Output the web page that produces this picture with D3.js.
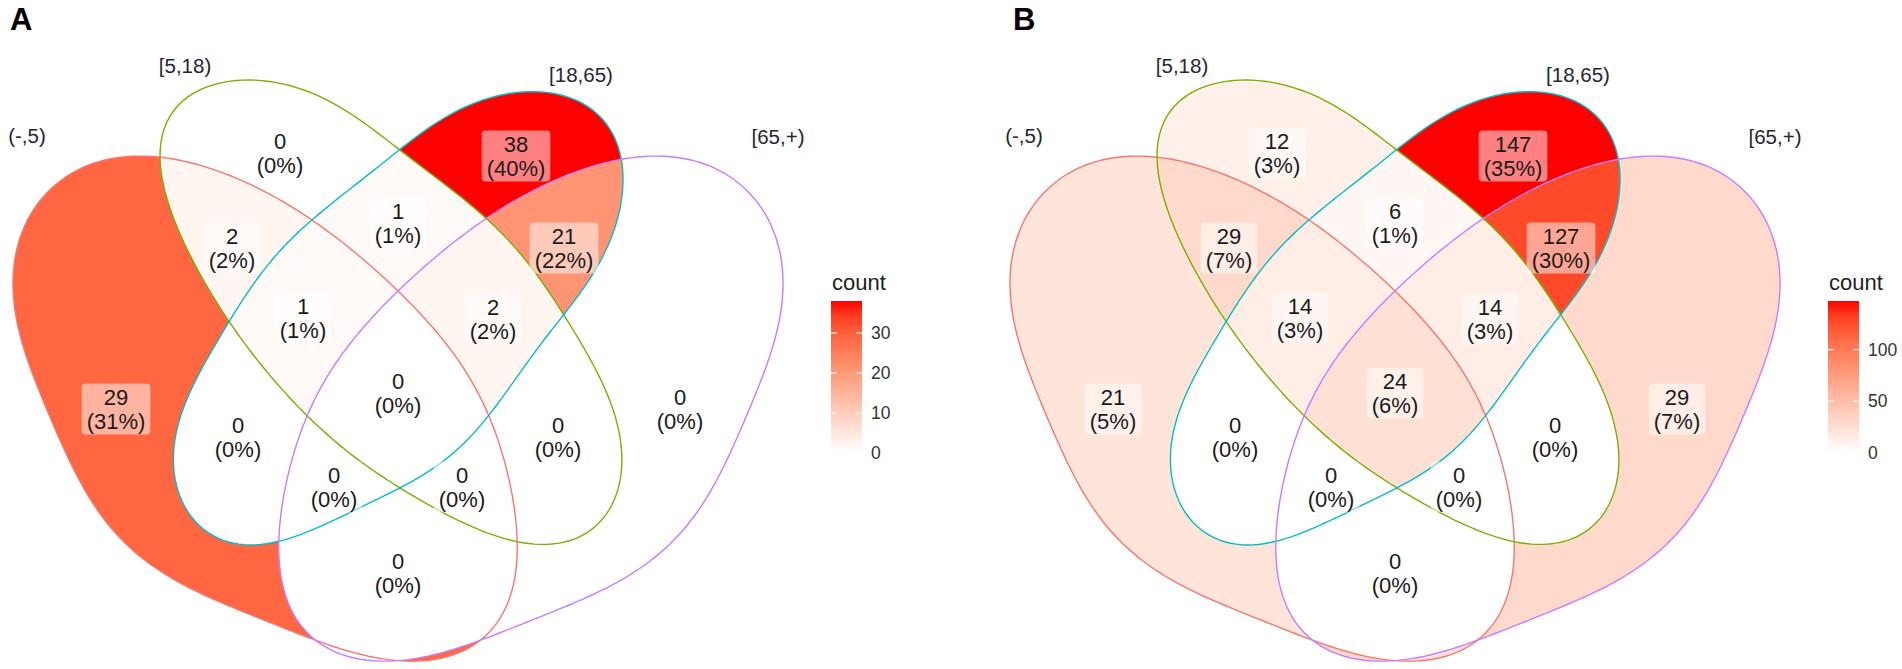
<!DOCTYPE html>
<html>
<head>
<meta charset="utf-8">
<script src="https://cdn.jsdelivr.net/npm/d3@7"></script>
<style>
  body { margin: 0; background: #fff; }
  svg { display: block; font-family: "Liberation Sans", Arial, sans-serif; }
</style>
</head>
<body>
<svg id="chart" width="1902" height="669"></svg>
<script>
// sets and region counts (region keys: letters of the sets the region belongs to)
const setNames = ["(-,5)", "[5,18)", "[18,65)", "[65,+)"];
const setColors = ["#F8766D", "#7CAE00", "#00BFC4", "#C77CFF"];
const regionKeys = ["A", "B", "C", "D", "AB", "AC", "AD", "BC", "BD", "CD", "ABC", "ABD", "ACD", "BCD", "ABCD"];
const countsA = [29, 0, 38, 0, 2, 0, 0, 1, 0, 21, 1, 0, 0, 2, 0];
const countsB = [21, 12, 147, 29, 29, 0, 0, 6, 0, 127, 14, 0, 0, 14, 24];
const ticksA = [0, 10, 20, 30];
const ticksB = [0, 50, 100];

// shape outlines, in panel units (the [65,+) shape is the mirror of (-,5))
const outlineA = [[133,155],[160,157],[213,170],[270,193],[313,218],[398,290],[457,357],[490,410],
  [508,477],[517,543],[513,593],[493,637],[462,653],[425,661],[383,658],[320,643],[260,619],
  [172,581],[103,522],[64,449],[42,404],[27,360],[17,310],[13,265],[20,230],[40,198],[70,173],[100,160]];
const outlineB = [[233,82],[262,82],[300,90],[340,106],[370,125],[400,149],[485,218],[530,263],
  [569,320],[609,400],[623,447],[621,480],[609,513],[591,535],[564,547],[536,545],[466,522],
  [397,492],[310,417],[260,367],[227,320],[193,260],[180,233],[170,207],[163,180],[160,157],
  [162,133],[167,110],[180,97],[200,87]];
const outlineC = [[550,93],[590,103],[613,127],[623,157],[621,190],[612,228],[600,267],[570,310],
  [530,353],[497,410],[450,455],[397,492],[330,522],[260,545],[232,547],[205,535],[187,513],
  [175,480],[173,447],[187,400],[227,320],[270,263],[313,218],[400,149],[440,120],[473,103],[510,94]];
const mirrorX = 796;
const setLabelPos = [[27, 143], [185, 73], [581, 82], [778, 144]];
// where each region's label sits, in panel units (same order as regionKeys)
const regionLabelPos = [[116,409],[280,153],[516,156],[680,409],[232,248],[238,437],[398,573],
  [398,223],[558,437],[564,248],[303,318],[462,487],[334,487],[493,319],[398,393]];

const panels = [
  { tag: "A", counts: countsA, ticks: ticksA, offset: 0, tagX: 10 },
  { tag: "B", counts: countsB, ticks: ticksB, offset: 997, tagX: 16 }
];

// low-pass the hand traced outline so it comes out as one smooth closed curve
function smoothOutline(pts, K = 6, N = 240) {
  const ring = pts.concat([pts[0]]);
  const cum = [0];
  for (let i = 1; i < ring.length; i++) {
    cum.push(cum[i - 1] + Math.hypot(ring[i][0] - ring[i - 1][0], ring[i][1] - ring[i - 1][1]));
  }
  const L = cum[cum.length - 1];
  const samples = [];
  let j = 0;
  for (let n = 0; n < N; n++) {
    const s = n * L / N;
    while (cum[j + 1] < s) j++;
    const t = (s - cum[j]) / (cum[j + 1] - cum[j]);
    samples.push([ring[j][0] + t * (ring[j + 1][0] - ring[j][0]), ring[j][1] + t * (ring[j + 1][1] - ring[j][1])]);
  }
  const coefs = [];
  for (let h = -K; h <= K; h++) {
    let re = 0, im = 0;
    samples.forEach(([x, y], n) => {
      const a = -2 * Math.PI * h * n / N, c = Math.cos(a), s = Math.sin(a);
      re += x * c - y * s;
      im += x * s + y * c;
    });
    coefs.push([h, re / N, im / N]);
  }
  return d3.range(N).map(n => {
    let x = 0, y = 0;
    coefs.forEach(([h, re, im]) => {
      const a = 2 * Math.PI * h * n / N, c = Math.cos(a), s = Math.sin(a);
      x += re * c - im * s;
      y += re * s + im * c;
    });
    return [x, y];
  });
}

const smoothA = smoothOutline(outlineA);
const outlines = [smoothA, smoothOutline(outlineB), smoothOutline(outlineC),
  smoothA.map(([x, y]) => [mirrorX - x, y])];

const svg = d3.select("#chart");
const defs = svg.append("defs");

function drawPanel(panel, pi) {
  const x = d3.scaleLinear().domain([0, 800]).range([panel.offset, panel.offset + 800]);
  const y = d3.scaleLinear().domain([0, 669]).range([0, 669]);
  const line = d3.line().x(d => x(d[0])).y(d => y(d[1])).curve(d3.curveLinearClosed);
  const max = d3.max(panel.counts);
  const total = d3.sum(panel.counts);
  const fill = d3.scaleLinear().domain([0, max]).range(["#ffffff", "#ff0000"]).interpolate(d3.interpolateLab);

  // clip paths for each set
  outlines.forEach((o, i) => {
    defs.append("clipPath").attr("id", `clip${pi}_${i}`)
      .append("path").attr("d", line(o));
  });

  const g = svg.append("g");

  // region fills: inside the included sets, masked out of the others
  regionKeys.forEach((key, ri) => {
    const inc = [], exc = [];
    "ABCD".split("").forEach((c, i) => (key.includes(c) ? inc : exc).push(i));
    const mask = defs.append("mask").attr("id", `mask${pi}_${key}`)
      .attr("maskUnits", "userSpaceOnUse")
      .attr("x", 0).attr("y", 0).attr("width", 1902).attr("height", 669);
    mask.append("rect").attr("x", 0).attr("y", 0).attr("width", 1902).attr("height", 669).attr("fill", "#fff");
    exc.forEach(i => mask.append("path").attr("d", line(outlines[i])).attr("fill", "#000"));

    let holder = g.append("g").attr("mask", `url(#mask${pi}_${key})`);
    inc.forEach(i => { holder = holder.append("g").attr("clip-path", `url(#clip${pi}_${i})`); });
    holder.append("rect")
      .attr("x", x(0)).attr("y", y(0)).attr("width", 800).attr("height", 669)
      .attr("fill", fill(panel.counts[ri]));
  });

  // set outlines
  g.selectAll("path.edge").data(outlines).join("path")
    .attr("class", "edge")
    .attr("d", d => line(d))
    .attr("fill", "none")
    .attr("stroke", (d, i) => setColors[i])
    .attr("stroke-width", 1.4);

  // set names
  g.selectAll("text.setname").data(setNames).join("text")
    .attr("class", "setname")
    .attr("x", (d, i) => x(setLabelPos[i][0]))
    .attr("y", (d, i) => y(setLabelPos[i][1]))
    .attr("text-anchor", "middle")
    .attr("font-size", 20.5)
    .attr("fill", "#262630")
    .text(d => d);

  // region labels with half transparent white boxes
  regionKeys.forEach((key, ri) => {
    const [cx, cy0] = regionLabelPos[ri];
    const lg = g.append("g");
    const t = lg.append("text")
      .attr("text-anchor", "middle")
      .attr("font-size", 22)
      .attr("fill", "#1a1a1a");
    t.append("tspan").attr("x", x(cx)).attr("y", y(cy0) - 4.5).text(panel.counts[ri]);
    t.append("tspan").attr("x", x(cx)).attr("y", y(cy0) + 19.5)
      .text(`(${Math.round(panel.counts[ri] / total * 100)}%)`);
    const bb = t.node().getBBox();
    lg.insert("rect", "text")
      .attr("x", bb.x - 5).attr("y", bb.y - 1)
      .attr("width", bb.width + 10).attr("height", bb.height + 2)
      .attr("rx", 4)
      .attr("fill", "#fff").attr("fill-opacity", 0.5);
  });

  // colour bar legend
  const barX = x(831), barW = 31, barTop = 301, barBottom = 453;
  const cy = d3.scaleLinear().domain([0, max]).range([barBottom, barTop]);
  const grad = defs.append("linearGradient").attr("id", `grad${pi}`)
    .attr("x1", 0).attr("y1", 1).attr("x2", 0).attr("y2", 0);
  d3.range(0, 1.0001, 0.1).forEach(t => {
    grad.append("stop").attr("offset", t).attr("stop-color", fill(t * max));
  });
  g.append("rect")
    .attr("x", barX).attr("y", barTop).attr("width", barW).attr("height", barBottom - barTop)
    .attr("fill", `url(#grad${pi})`);
  panel.ticks.forEach(v => {
    [[barX, barX + 6], [barX + barW - 6, barX + barW]].forEach(([a, b]) => {
      g.append("line").attr("x1", a).attr("x2", b).attr("y1", cy(v)).attr("y2", cy(v))
        .attr("stroke", "#fff").attr("stroke-width", 1.2);
    });
  });
  const axis = g.append("g")
    .attr("transform", `translate(${barX + barW},0)`)
    .call(d3.axisRight(cy).tickValues(panel.ticks).tickSize(0).tickPadding(9));
  axis.select(".domain").remove();
  axis.selectAll("text")
    .attr("font-size", 17.5)
    .attr("font-family", "Liberation Sans, Arial, sans-serif")
    .attr("fill", "#333");
  g.append("text")
    .attr("x", barX + 1).attr("y", 290)
    .attr("font-size", 22)
    .attr("fill", "#222")
    .text("count");

  // panel tag
  g.append("text")
    .attr("x", x(panel.tagX)).attr("y", 30)
    .attr("font-size", 31).attr("font-weight", "bold")
    .attr("fill", "#000")
    .text(panel.tag);
}

panels.forEach(drawPanel);
</script>
</body>
</html>
